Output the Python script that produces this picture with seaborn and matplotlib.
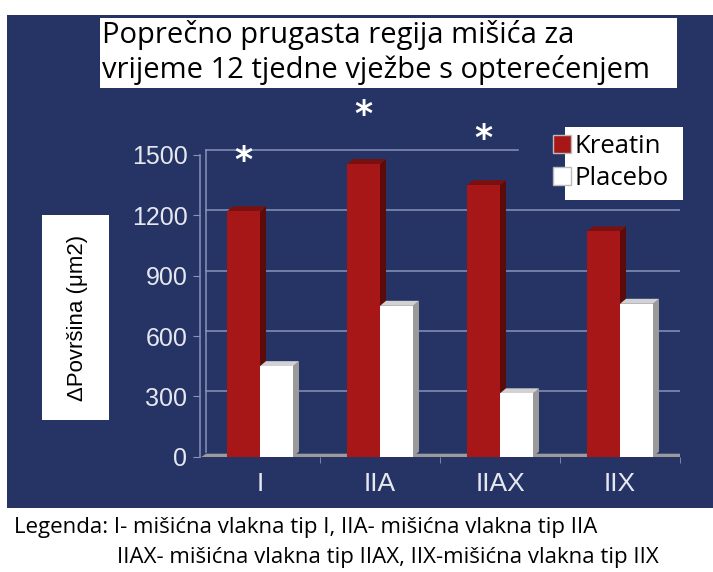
import seaborn as sns
import pandas as pd
import matplotlib.pyplot as plt
import matplotlib.patches as mpatches
from matplotlib.ticker import FixedLocator

### data
categories = ['I', 'IIA', 'IIAX', 'IIX']
groups = ['Kreatin', 'Placebo']
kreatin = [1220, 1455, 1350, 1120]
placebo = [450, 750, 315, 760]
yticks = [0, 300, 600, 900, 1200, 1500]
# asterisks above the Kreatin bars (significant ones)
star_cats = ['I', 'IIA', 'IIAX']
star_levels = [1470, 1700, 1580]

title_lines = ['Poprečno prugasta regija mišića za',
               'vrijeme 12 tjedne vježbe s opterećenjem']
ylabel = 'ΔPovršina (μm2)'
note_1 = 'Legenda: I- mišićna vlakna tip I, IIA- mišićna vlakna tip IIA'
note_2 = 'IIAX- mišićna vlakna tip IIAX, IIX-mišićna vlakna tip IIX'

df = pd.DataFrame({
    'Tip': categories * 2,
    'Grupa': [groups[0]] * len(categories) + [groups[1]] * len(categories),
    'Povrsina': kreatin + placebo,
})

navy = '#263365'
grid_col = '#8893bb'
tick_col = '#e6e8f0'
red = '#a81717'
colors = {'Kreatin': red, 'Placebo': '#ffffff'}
side_cols = {'Kreatin': '#5c0a0a', 'Placebo': '#9a9a9a'}
top_cols = {'Kreatin': '#7a1010', 'Placebo': '#d2d2d2'}

W, H = 713, 572
fig = plt.figure(figsize=(W / 100, H / 100), dpi=100)
fig.patch.set_facecolor('white')

# navy slide background
fig.patches.append(mpatches.Rectangle((7 / W, 1 - 508 / H), 706 / W, (508 - 15) / H,
                                      transform=fig.transFigure, facecolor=navy,
                                      edgecolor='none', zorder=0))

ax = fig.add_axes([200 / W, 1 - 456.7 / H, 480 / W, 301.7 / H])
ax.set_facecolor('none')
ax.set_zorder(1)

sns.barplot(data=df, x='Tip', y='Povrsina', hue='Grupa', order=categories,
            hue_order=groups, palette=colors, width=0.55, gap=0,
            saturation=1, edgecolor='none', legend=False, ax=ax)

ax.set_xlim(-0.5, 3.5)
ax.set_ylim(0, 1500)

# fake 3D depth for each bar: right side and top face
dx, dy = 0.05, 25
n = len(categories)
for i, p in enumerate(ax.patches[:2 * n]):
    g = groups[i // n]
    x0, w, h = p.get_x(), p.get_width(), p.get_height()
    side = mpatches.Polygon([(x0 + w, 0), (x0 + w + dx, dy), (x0 + w + dx, h + dy), (x0 + w, h)],
                            closed=True, facecolor=side_cols[g], edgecolor='none', zorder=3)
    top = mpatches.Polygon([(x0, h), (x0 + dx, h + dy), (x0 + w + dx, h + dy), (x0 + w, h)],
                           closed=True, facecolor=top_cols[g], edgecolor='none', zorder=3)
    ax.add_patch(side)
    ax.add_patch(top)
    p.set_zorder(4)

# floor and back wall lines
ax.add_patch(mpatches.Polygon([(-0.5, -6), (3.5, -6), (3.55, dy - 10), (-0.45, dy - 10)],
                              closed=True, facecolor='#9a9a9a', edgecolor='none', zorder=2))
for v in yticks[1:-1]:
    ax.plot([-0.45, 3.55], [v + dy, v + dy], color=grid_col, lw=1.1, zorder=1)
ax.plot([-0.45, 2.15], [1500 + dy, 1500 + dy], color=grid_col, lw=1.1, zorder=1, clip_on=False)
ax.plot([-0.45, -0.45], [dy, 1500 + dy], color=grid_col, lw=1.1, zorder=1, clip_on=False)
ax.plot([3.55, 3.55], [dy, 1200 + dy], color=grid_col, lw=1.1, zorder=1)

# significance stars
for c, lvl in zip(star_cats, star_levels):
    xi = categories.index(c) - 0.1375
    ax.text(xi, lvl, '*', color='white', fontsize=25, ha='center', va='center',
            fontweight='bold', family='DejaVu Sans', clip_on=False)

for s in ['top', 'right', 'bottom']:
    ax.spines[s].set_visible(False)
ax.spines['left'].set_color(grid_col)
ax.spines['left'].set_linewidth(1.1)

ax.set_yticks(yticks)
ax.set_yticklabels([str(v) for v in yticks], family='Liberation Sans', fontsize=18, color=tick_col)
ax.tick_params(axis='y', length=5, color=grid_col, pad=4)
ax.set_xticks(range(n))
ax.set_xticklabels(categories, family='Liberation Sans', fontsize=19, color=tick_col)
ax.tick_params(axis='x', length=0, pad=11)
ax.xaxis.set_minor_locator(FixedLocator([0.5, 1.5, 2.5, 3.5]))
ax.tick_params(axis='x', which='minor', length=4, color=grid_col)
ax.set_xlabel('')
ax.set_ylabel('')

# legend: squares on navy, labels in a white box
handles = [mpatches.Patch(facecolor=colors[g], edgecolor='#bbbbbb', label=g) for g in groups]
ax.add_patch(mpatches.Rectangle((565 / W, 1 - 200 / H), 118 / W, 73 / H, transform=fig.transFigure,
                                facecolor='white', edgecolor='none', zorder=6, clip_on=False))
leg = ax.legend(handles=handles, loc='upper left', bbox_to_anchor=(543 / W, 1 - 124 / H),
                bbox_transform=fig.transFigure, frameon=False, handlelength=0.7,
                handleheight=0.7, handletextpad=0.12, labelspacing=0.25,
                borderaxespad=0, prop={'family': 'Open Sans', 'size': 18.5})
leg.set_zorder(7)

# y label in white box
fig.patches.append(mpatches.Rectangle((42 / W, 1 - 420 / H), 67 / W, 205 / H,
                                      transform=fig.transFigure, facecolor='white',
                                      edgecolor='none', zorder=2))
fig.text(77 / W, 1 - 318 / H, ylabel, rotation=90, ha='center', va='center',
         family='Liberation Sans', fontsize=16, color='black', zorder=3)

# title in white box
fig.patches.append(mpatches.Rectangle((100 / W, 1 - 88 / H), 577 / W, 70 / H,
                                      transform=fig.transFigure, facecolor='white',
                                      edgecolor='none', zorder=2))
fig.text(102 / W, 1 - 35 / H, title_lines[0], ha='left', va='center',
         family='Open Sans', fontsize=21, color='black', zorder=3)
fig.text(102 / W, 1 - 70 / H, title_lines[1], ha='left', va='center',
         family='Open Sans', fontsize=21, color='black', zorder=3)

# footnote legend
fig.text(14 / W, 1 - 527 / H, note_1, ha='left', va='center',
         family='Open Sans', fontsize=16, color='black')
fig.text(117 / W, 1 - 558 / H, note_2, ha='left', va='center',
         family='Open Sans', fontsize=16, color='black')

fig.savefig('out.png', dpi=100)
